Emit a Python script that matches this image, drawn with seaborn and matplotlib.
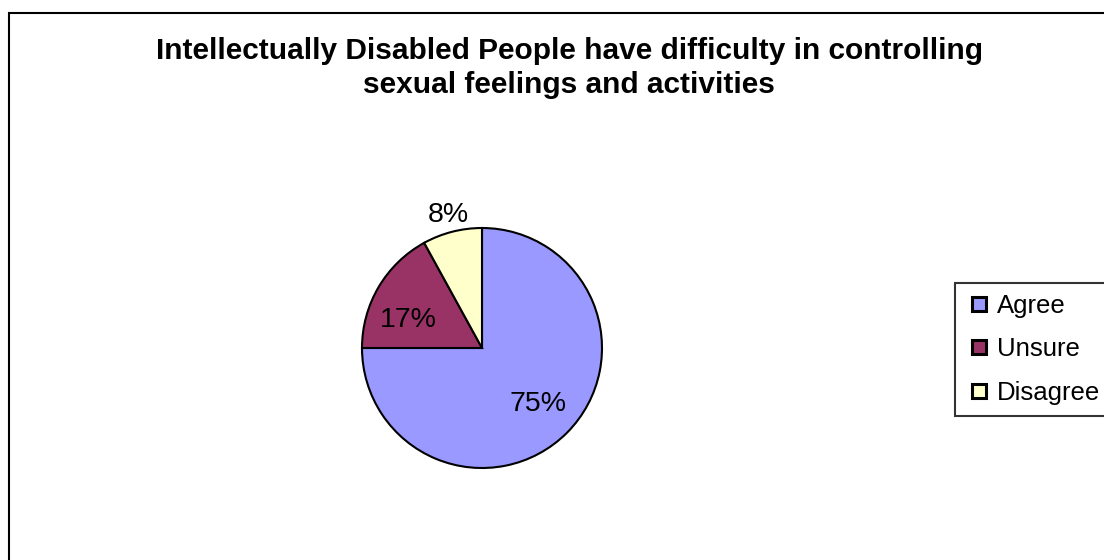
import matplotlib
matplotlib.use("Agg")
import matplotlib.pyplot as plt
from matplotlib.patches import Rectangle
from matplotlib.lines import Line2D
import seaborn as sns
import numpy as np

title = "Intellectually Disabled People have difficulty in controlling\nsexual feelings and activities"
categories = ["Agree", "Unsure", "Disagree"]
values = [75, 17, 8]
colors = ["#9999FF", "#993366", "#FFFFCC"]

sns.set_theme(style="white")
plt.rcParams["font.family"] = ["Liberation Sans", "DejaVu Sans"]
plt.rcParams["text.color"] = "black"

W, H, DPI = 1104, 560, 100
fig = plt.figure(figsize=(W / DPI, H / DPI), dpi=DPI)
fig.patch.set_facecolor("white")

# Chart-area frame (runs off the right and bottom edges)
fig.patches.append(Rectangle((9 / W, -0.05), 1.2, (H - 13) / H + 0.05,
                             transform=fig.transFigure, fill=False,
                             edgecolor="black", linewidth=1.5, zorder=0))

# Pie axes: centre (482, 348) px, radius 120 px
cx, cy, r = 482, 348, 120
ax = fig.add_axes([(cx - r) / W, (H - cy - r) / H, 2 * r / W, 2 * r / H])
palette = sns.color_palette(colors)
wedges, texts, autotexts = ax.pie(
    values, colors=palette, startangle=90, counterclock=False,
    autopct=lambda p: f"{p:.0f}%", pctdistance=0.66,
    wedgeprops=dict(edgecolor="black", linewidth=1.5),
    textprops=dict(fontsize=20.5, color="black"))
ax.set_xlim(-1, 1)
ax.set_ylim(-1, 1)
ax.set_aspect("equal")
ax.axis("off")

# Small slice gets its label outside the pie
w = wedges[2]
ang = np.deg2rad((w.theta1 + w.theta2) / 2)
autotexts[2].set_position((1.14 * np.cos(ang), 1.14 * np.sin(ang)))
w = wedges[1]
ang = np.deg2rad((w.theta1 + w.theta2) / 2 + 10)
autotexts[1].set_position((0.66 * np.cos(ang), 0.66 * np.sin(ang)))

fig.text(569 / W, 1 - 68 / H, title, ha="center", va="center",
         fontsize=21.5, fontweight="bold", linespacing=1.25, color="black")

handles = [Line2D([], [], marker="s", linestyle="none", markersize=10.5,
                  markerfacecolor=c, markeredgecolor="black", markeredgewidth=2.2)
           for c in colors]
leg = fig.legend(handles, categories, loc="upper left",
                 bbox_to_anchor=(955 / W, 1 - 283 / H), frameon=True,
                 fontsize=18.5, handlelength=1.0, handletextpad=0.2,
                 labelspacing=0.76, borderpad=0.42, borderaxespad=0,
                 fancybox=False)
leg.get_frame().set_edgecolor("black")
leg.get_frame().set_linewidth(1.5)

fig.savefig("out.png", dpi=DPI, facecolor="white")
